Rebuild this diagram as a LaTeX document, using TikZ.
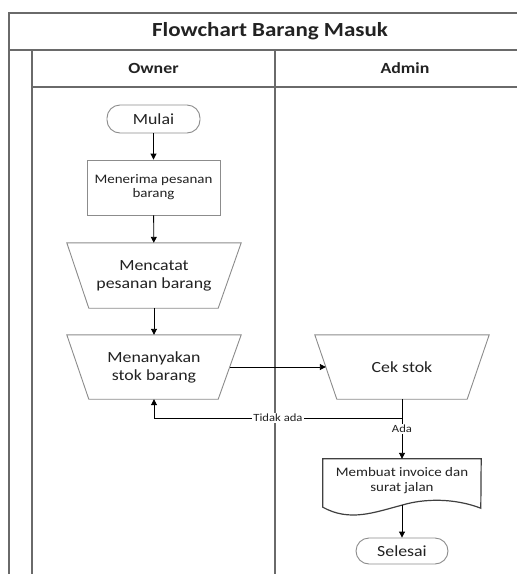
\documentclass[tikz,border=0pt]{standalone}
\usepackage{fontspec}
\setmainfont{Carlito}[FakeStretch=1.15]
\usetikzlibrary{arrows.meta,calc}
\definecolor{framec}{HTML}{6A6A6A}
\definecolor{shapec}{HTML}{8C8C8C}
\definecolor{txt}{HTML}{222222}
\tikzset{
  frameline/.style={draw=framec, line width=1.1pt},
  shapeline/.style={draw=shapec, line width=0.9pt},
  docline/.style={draw=black!75, line width=1.2pt},
  arr/.style={draw=black, line width=0.9pt, -{Triangle[length=6pt,width=6pt]}},
  plain/.style={draw=black, line width=0.9pt},
  term/.style={draw=shapec, line width=0.9pt, rounded corners=13pt, text=txt,
    font=\fontsize{15.5}{18}\selectfont, inner sep=0pt},
  procbox/.style={draw=shapec, line width=0.9pt, text=txt, align=center,
    font=\fontsize{13}{14}\selectfont, inner sep=0pt},
  trapbox/.style={text=txt, align=center, font=\fontsize{15.5}{18}\selectfont,
    inner sep=0pt, minimum width=174pt, minimum height=64pt},
  headtxt/.style={text=txt, font=\bfseries\fontsize{15.5}{18}\selectfont},
  lbl/.style={fill=white, text=txt, inner sep=1pt, font=\fontsize{11}{12}\selectfont},
}
\begin{document}
\begin{tikzpicture}[x=1pt,y=-1pt]
\useasboundingbox (0,0) rectangle (517,574);
\fill[white] (0,0) rectangle (517,574);
% frame
\draw[frameline] (517,13) -- (9,13) -- (9,574);
\draw[frameline] (9,50) -- (517,50);
\draw[frameline] (32,50) -- (32,574);
\draw[frameline] (275,50) -- (275,574);
\draw[frameline] (32,87) -- (517,87);
\node[text=txt, font=\bfseries\fontsize{20}{24}\selectfont] (title) at (270,31) {Flowchart Barang Masuk};
\node[headtxt] (owner) at (153.5,68) {Owner};
\node[headtxt] (admin) at (405,68) {Admin};
% nodes
\node[term, minimum width=93pt, minimum height=28pt] (mulai) at (153.5,119) {Mulai};
\node[procbox, minimum width=133pt, minimum height=55pt] (terima) at (153.5,187.5) {Menerima pesanan\\barang};
\node[trapbox, minimum height=65pt] (catat) at (154,275.5) {Mencatat\\pesanan barang};
\draw[shapeline] (catat.north west) -- (catat.north east) -- ([xshift=-23pt]catat.south east) -- ([xshift=22pt]catat.south west) -- cycle;
\node[trapbox] (tanya) at (154,367) {Menanyakan\\stok barang};
\draw[shapeline] (tanya.north west) -- (tanya.north east) -- ([xshift=-23pt]tanya.south east) -- ([xshift=22pt]tanya.south west) -- cycle;
\node[trapbox] (cek) at (402,367) {Cek stok};
\draw[shapeline] (cek.north west) -- (cek.north east) -- ([xshift=-22pt]cek.south east) -- ([xshift=22pt]cek.south west) -- cycle;
\node[text=txt, align=center, font=\fontsize{13}{15}\selectfont, inner sep=0pt,
  minimum width=158pt, minimum height=44pt] (doc) at (402,481) {Membuat invoice dan\\surat jalan};
\coordinate (dsw) at (doc.south west);
\draw[docline] ($(dsw)+(0,4)$) -- (doc.north west) -- (doc.north east) -- ($(dsw)+(158,5)$)
  .. controls ($(dsw)+(132,-5)$) and ($(dsw)+(102,-5)$) .. ($(dsw)+(79,2)$)
  .. controls ($(dsw)+(52,9)$) and ($(dsw)+(27,19)$) .. ($(dsw)+(0,4)$) -- cycle;
\node[term, minimum width=92pt, minimum height=26pt] (selesai) at (402,551) {Selesai};
% connectors
\draw[arr] (mulai) -- (terima);
\draw[arr] (terima) -- (catat);
\draw[arr] (catat) -- (tanya);
\draw[arr] ([xshift=-11pt]tanya.east) -- ([xshift=11pt]cek.west);
\coordinate (split) at (402,418);
\draw[plain] (cek.south) -- (split);
\draw[arr] (split) -- node[lbl, pos=0.5] {Tidak ada} (split -| tanya.south) -- (tanya.south);
\draw[arr] (split) -- node[lbl, pos=0.27] {Ada} (doc.north);
\draw[arr] ([yshift=-2pt]doc.south) -- (selesai);
\end{tikzpicture}
\end{document}
